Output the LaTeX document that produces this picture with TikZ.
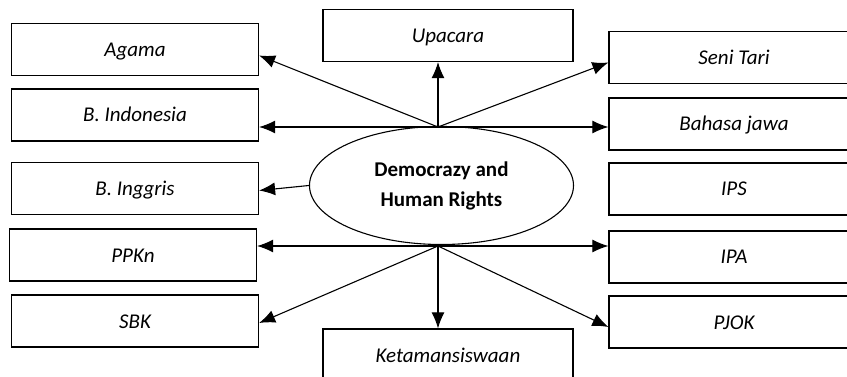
\documentclass[tikz,border=0pt]{standalone}
\usepackage{fontspec}
\setmainfont{Carlito}
\usetikzlibrary{arrows.meta}
\usetikzlibrary{shapes.geometric}

\begin{document}
\begin{tikzpicture}[x=1pt,y=-1pt,
  box/.style={draw,line width=1.2pt,inner sep=0pt,minimum height=52pt,
    text height=17pt,text depth=3pt,
    font=\fontsize{21}{25}\selectfont\itshape},
  lbox/.style={box,minimum width=247pt},
  rbox/.style={box,minimum width=250pt},
  link/.style={line width=1.1pt,-{Latex[length=16pt,width=13pt]}}]

  \useasboundingbox (0,0) rectangle (847,377);

  % centre
  \node[draw,ellipse,line width=1.1pt,minimum width=264pt,minimum height=118pt,
    align=center,font=\fontsize{21}{30}\selectfont\bfseries] (demo) at (441.5,185.5)
    {Democrazy and\\Human Rights};
  \coordinate (top) at (438,127);
  \coordinate (bot) at (438,246);

  % left
  \node[lbox] (agama) at (135,49.5) {Agama};
  \node[lbox] (indo) at (135,115) {B. Indonesia};
  \node[lbox] (inggris) at (135,188.5) {B. Inggris};
  \node[lbox] (ppkn) at (133,255) {PPKn};
  \node[lbox] (sbk) at (135,321) {SBK};

  % middle
  \node[rbox] (upacara) at (448,35.5) {Upacara};
  \node[rbox] (ketam) at (448,355) {Ketamansiswaan};

  % right
  \node[rbox] (seni) at (734,57.5) {Seni Tari};
  \node[rbox] (jawa) at (734,124) {Bahasa jawa};
  \node[rbox] (ips) at (734,189) {IPS};
  \node[rbox] (ipa) at (734,257) {IPA};
  \node[rbox] (pjok) at (734,322) {PJOK};

  % arrows
  \draw[link] (top) -- ([yshift=-6pt]agama.east);
  \draw[link] (top) -- (top -| indo.east);
  \draw[link] (top) -- (top |- upacara.south);
  \draw[link] (top) -- ([yshift=-5pt]seni.west);
  \draw[link] (top) -- (top -| jawa.west);
  \draw[link] (demo.west) -- ([yshift=-2pt]inggris.east);
  \draw[link] (bot) -- (bot -| ppkn.east);
  \draw[link] (bot) -- ([yshift=-2pt]sbk.east);
  \draw[link] (bot) -- (bot |- ketam.north);
  \draw[link] (bot) -- (bot -| ipa.west);
  \draw[link] (bot) -- ([yshift=-5pt]pjok.west);
\end{tikzpicture}
\end{document}
